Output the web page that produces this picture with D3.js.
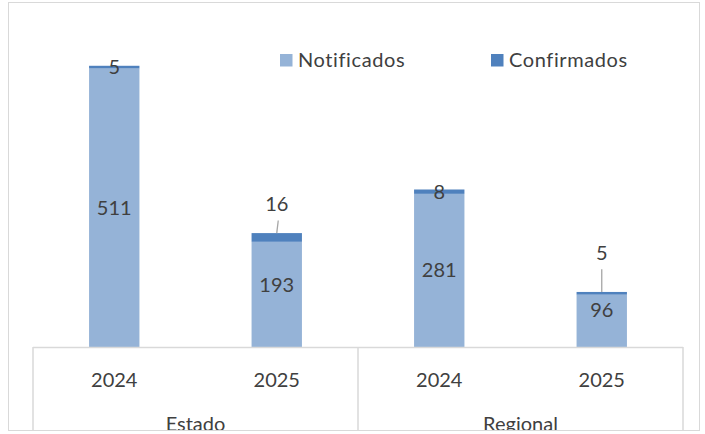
<!DOCTYPE html>
<html>
<head>
<meta charset="utf-8">
<script src="https://cdn.jsdelivr.net/npm/d3@7"></script>
<style>
  body { margin: 0; background: #fff; }
  text { font-family: Lato, "Open Sans", sans-serif; fill: #404040; }
</style>
</head>
<body>
<svg id="chart" width="705" height="434"></svg>
<script>
// data
var years = ["2024", "2025", "2024", "2025"];
var groups = ["Estado", "Regional"];
var notificados = [511, 193, 281, 96];
var confirmados = [5, 16, 8, 5];
var seriesNames = ["Notificados", "Confirmados"];

var colors = ["#95b3d7", "#4f81bd"];
var fontSize = 20;

var svg = d3.select("#chart");

// outer chart border
svg.append("rect")
    .attr("x", 8.5).attr("y", 2.5)
    .attr("width", 691).attr("height", 428)
    .attr("fill", "#fff")
    .attr("stroke", "#d9d9d9");

svg.append("clipPath").attr("id", "clip")
  .append("rect").attr("x", 9).attr("y", 3).attr("width", 690).attr("height", 427);

var g = svg.append("g").attr("clip-path", "url(#clip)");

var plotLeft = 33, plotRight = 683, baseY = 347;

var x = d3.scaleBand()
    .domain(d3.range(years.length))
    .range([plotLeft, plotRight]);

var barW = x.bandwidth() * 0.31;

var y = d3.scaleLinear()
    .domain([0, 600])
    .range([baseY, 20]);

var data = years.map(function(yr, i) {
    return {i: i, year: yr, n: notificados[i], c: confirmados[i]};
});

// bars - notificados
g.selectAll("rect.notif")
    .data(data)
    .enter()
    .append("rect")
      .attr("class", "notif")
      .attr("x", function(d) { return x(d.i) + (x.bandwidth() - barW) / 2; })
      .attr("y", function(d) { return y(d.n); })
      .attr("width", barW)
      .attr("height", function(d) { return y(0) - y(d.n); })
      .attr("fill", colors[0]);

// bars - confirmados (stacked)
g.selectAll("rect.conf")
    .data(data)
    .enter()
    .append("rect")
      .attr("class", "conf")
      .attr("x", function(d) { return x(d.i) + (x.bandwidth() - barW) / 2; })
      .attr("y", function(d) { return y(d.n + d.c); })
      .attr("width", barW)
      .attr("height", function(d) { return y(d.n) - y(d.n + d.c); })
      .attr("fill", colors[1]);

// value labels notificados (a couple nudged up like in the original)
var nudgeN = {1: 9, 3: 11};
g.selectAll("text.lblN")
    .data(data)
    .enter()
    .append("text")
      .attr("class", "lblN")
      .attr("x", function(d) { return x(d.i) + x.bandwidth() / 2; })
      .attr("y", function(d) { return (y(0) + y(d.n)) / 2 - (nudgeN[d.i] || 0); })
      .attr("dy", "0.35em")
      .attr("text-anchor", "middle")
      .style("font-size", fontSize + "px")
      .text(function(d) { return d.n; });

// labels confirmados, some lifted with leader line
var lift = {1: 33, 3: 40};

data.forEach(function(d) {
    var cx = x(d.i) + x.bandwidth() / 2;
    var top = y(d.n + d.c);
    var mid = (y(d.n) + top) / 2;
    var ly = mid - (lift[d.i] || 0);
    if (lift[d.i]) {
        g.append("line")
            .attr("x1", cx).attr("y1", top)
            .attr("x2", cx + (d.i === 1 ? 1.5 : 0)).attr("y2", ly + 16)
            .attr("stroke", "#a6a6a6")
            .attr("stroke-width", 1.3);
    }
    g.append("text")
        .attr("x", cx)
        .attr("y", ly)
        .attr("dy", "0.35em")
        .attr("text-anchor", "middle")
        .style("font-size", fontSize + "px")
        .text(d.c);
});

// category axis box
var axisColor = "#d9d9d9";
g.append("line")
    .attr("x1", plotLeft).attr("x2", plotRight)
    .attr("y1", baseY + 0.5).attr("y2", baseY + 0.5)
    .attr("stroke", axisColor).attr("stroke-width", 1.5);

[0, 2, 4].forEach(function(k) {
    var xx = k < 4 ? x(k) : plotRight;
    g.append("line")
        .attr("x1", xx).attr("x2", xx)
        .attr("y1", baseY).attr("y2", 432)
        .attr("stroke", axisColor).attr("stroke-width", 1.5);
});

g.selectAll("text.year")
    .data(data)
    .enter()
    .append("text")
      .attr("class", "year")
      .attr("x", function(d) { return x(d.i) + x.bandwidth() / 2; })
      .attr("y", 387)
      .attr("text-anchor", "middle")
      .style("font-size", fontSize + "px")
      .text(function(d) { return d.year; });

// group labels, cut by the chart frame as in the original
g.selectAll("text.group")
    .data(groups)
    .enter()
    .append("text")
      .attr("class", "group")
      .attr("x", function(d, k) { return x(k * 2) + x.bandwidth(); })
      .attr("y", 431)
      .attr("text-anchor", "middle")
      .style("font-size", fontSize + "px")
      .text(function(d) { return d; });

// legend
var legendX = [280, 491];
var leg = svg.selectAll("g.leg")
    .data(seriesNames)
    .enter()
    .append("g")
      .attr("class", "leg")
      .attr("transform", function(d, k) { return "translate(" + legendX[k] + ",54)"; });
leg.append("rect")
    .attr("width", 12.5).attr("height", 12.5)
    .attr("fill", function(d, k) { return colors[k]; });
leg.append("text")
    .attr("x", 18)
    .attr("y", 13)
    .style("font-size", fontSize + "px")
    .style("letter-spacing", "0.6px")
    .text(function(d) { return d; });
</script>
</body>
</html>
